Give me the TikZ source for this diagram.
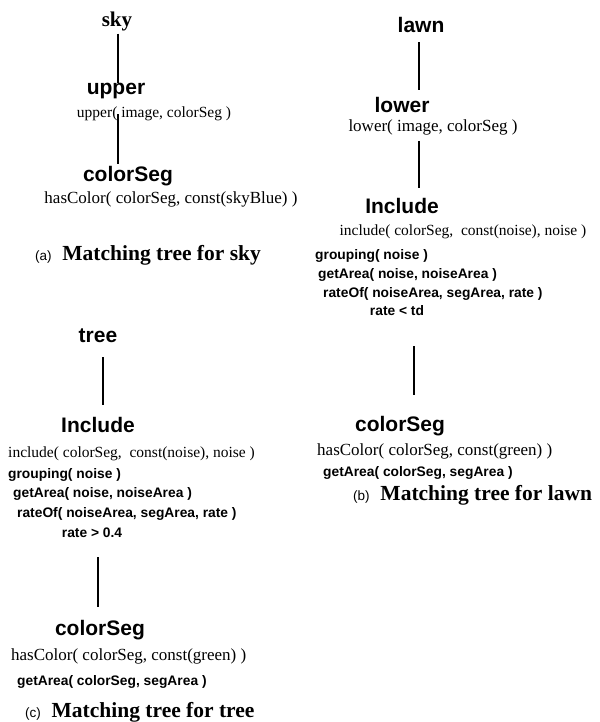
\documentclass[tikz,border=0pt]{standalone}
\usepackage{fontspec}
\setmainfont{Liberation Serif}
\setsansfont{Liberation Sans}

\newcommand{\subfig}[1]{{\sffamily\mdseries\fontsize{13.5}{15}\selectfont(#1)}\enspace}

\begin{document}
\begin{tikzpicture}[x=1pt, y=-1pt,
    root/.style={font=\bfseries\fontsize{21}{24}\selectfont, inner sep=0pt, anchor=base},
    head/.style={font=\sffamily\bfseries\fontsize{21}{24}\selectfont, inner sep=0pt, anchor=base},
    sig/.style={font=\fontsize{15.5}{18}\selectfont, inner sep=0pt, anchor=base},
    wide/.style={font=\fontsize{17}{20}\selectfont},
    cond/.style={font=\sffamily\bfseries\fontsize{13.8}{16}\selectfont, inner sep=0pt, anchor=base west},
    capt/.style={font=\bfseries\fontsize{21.5}{24}\selectfont, inner sep=0pt, anchor=base west},
    link/.style={line width=2.6pt}
  ]
  \useasboundingbox (0,0) rectangle (599,722);

  % (a) sky
  \node[root] (sky) at (117,27) {sky};
  \node[head] (upper) at (116,95) {upper};
  \node[sig] (upperlbl) at (154,118) {upper( image, colorSeg )};
  \node[head] (sega) at (128,182) {colorSeg};
  \node[sig, wide] (hasa) at (171,204) {hasColor( colorSeg, const(skyBlue) )};
  \node[capt] (capa) at (35,260) {\subfig{a}Matching tree for sky};

  \draw[link, shorten <=2pt] ([xshift=1pt]sky.south) -- ([xshift=1pt]sky.south |- upper.north);
  \draw[link, shorten >=3pt] ([xshift=2pt]upper.south |- upperlbl.center) -- ([xshift=2pt]upper.south |- sega.north);

  % (b) lawn
  \node[head] (lawn) at (421,33) {lawn};
  \node[head] (lower) at (402,113) {lower};
  \node[sig, wide] (lowerlbl) at (433,132) {lower( image, colorSeg )};
  \node[head] (inclb) at (402,213) {Include};
  \node[sig] (incllblb) at (463,235) {include( colorSeg,\ \ const(noise), noise )};
  \node[cond] (grpb) at (315,259) {grouping( noise )};
  \node[cond] (areab) at (318,278) {getArea( noise, noiseArea )};
  \node[cond] (rateb) at (323,297) {rateOf( noiseArea, segArea, rate )};
  \node[cond, anchor=base] (limb) at (397,315) {rate < td};
  \node[head] (segb) at (400,431) {colorSeg};
  \node[sig, wide, anchor=base west] (hasb) at (317,455) {hasColor( colorSeg, const(green) )};
  \node[cond] (segareab) at (323,476) {getArea( colorSeg, segArea )};
  \node[capt] (capb) at (353,500) {\subfig{b}Matching tree for lawn};

  \draw[link, shorten <=9pt, shorten >=8pt] ([xshift=-2pt]lawn.south) -- ([xshift=-2pt]lawn.south |- lower.north);
  \draw[link, shorten <=5pt, shorten >=10pt] ([xshift=-2pt]lawn.south |- lowerlbl.south) -- ([xshift=-2pt]lawn.south |- inclb.north);
  \draw[link, shorten <=31pt, shorten >=21pt] ([xshift=17pt]limb.south) -- ([xshift=17pt]limb.south |- segb.north);

  % (c) tree
  \node[head] (tree) at (98,342) {tree};
  \node[head] (inclc) at (98,432) {Include};
  \node[sig, anchor=base west] (incllblc) at (8,457) {include( colorSeg,\ \ const(noise), noise )};
  \node[cond] (grpc) at (8,478) {grouping( noise )};
  \node[cond] (areac) at (13,497) {getArea( noise, noiseArea )};
  \node[cond] (ratec) at (17,517) {rateOf( noiseArea, segArea, rate )};
  \node[cond, anchor=base] (limc) at (92,537) {rate > 0.4};
  \node[head] (segc) at (100,635) {colorSeg};
  \node[sig, wide, anchor=base west] (hasc) at (11,660) {hasColor( colorSeg, const(green) )};
  \node[cond] (segareac) at (17,685) {getArea( colorSeg, segArea )};
  \node[capt] (capc) at (25,717) {\subfig{c}Matching tree for tree};

  \draw[link, shorten <=15pt, shorten >=12pt] ([xshift=5pt]tree.south) -- ([xshift=5pt]tree.south |- inclc.north);
  \draw[link, shorten <=20pt, shorten >=13pt] ([xshift=6pt]limc.south) -- ([xshift=6pt]limc.south |- segc.north);
\end{tikzpicture}
\end{document}
